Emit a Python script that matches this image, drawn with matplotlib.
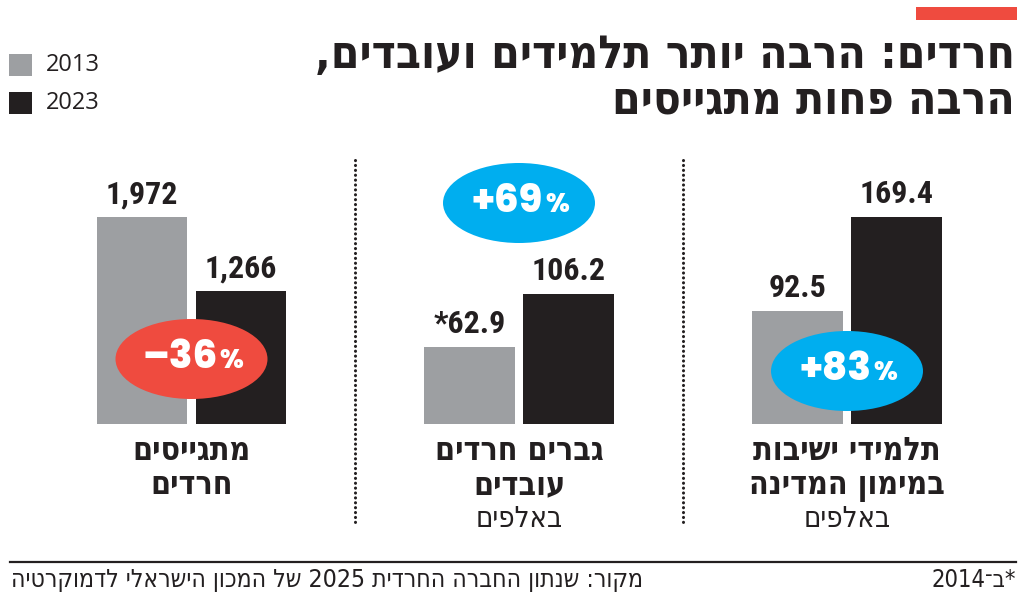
import re
import matplotlib
matplotlib.use("Agg")
import matplotlib.pyplot as plt
from matplotlib import font_manager as fm
from matplotlib.patches import Ellipse, Rectangle
from matplotlib.lines import Line2D
from matplotlib.transforms import ScaledTranslation

# ---------------- data ----------------
years = ["2013", "2023"]
title_lines = ["חרדים: הרבה יותר תלמידים ועובדים,", "הרבה פחות מתגייסים"]
panel_names = [["מתגייסים", "חרדים"], ["גברים חרדים", "עובדים"], ["תלמידי ישיבות", "במימון המדינה"]]
panel_units = ["", "באלפים", "באלפים"]
values_2013 = [1972, 62.9, 92.5]
values_2023 = [1266, 106.2, 169.4]
labels_2013 = ["1,972", "*62.9", "92.5"]
labels_2023 = ["1,266", "106.2", "169.4"]
change_numbers = ["–36", "+69", "+83"]
scale_group = [0, 1, 1]          # panels sharing a y scale
source_text = "מקור: שנתון החברה החרדית 2025 של המכון הישראלי לדמוקרטיה"
footnote_text = "*ב־2014"

# ---------------- style ----------------
GRAY = "#9d9fa2"
BLACK = "#231f20"
RED = "#ef4b3f"
BLUE = "#00aeef"
badge_colors = [RED, BLUE, BLUE]
badge_height_px = [65, 221, 53]   # badge centre above baseline, px

W, H = 1024, 596


def vis(s):
    """Visual (left-to-right) order for an RTL Hebrew string."""
    parts = re.split(r'(\d[\d.,]*)', s)
    out = []
    for p in reversed(parts):
        out.append(p if (p and p[0].isdigit()) else p[::-1])
    return "".join(out)


def pick(cands, weight="normal"):
    for c in cands:
        try:
            fm.findfont(fm.FontProperties(family=c, weight=weight), fallback_to_default=False)
            return c
        except Exception:
            continue
    return "DejaVu Sans"


def fx(px):
    return px / W


def fy(py):
    return 1 - py / H


HEB_BOLD = dict(family=["DejaVu Sans"], fontstretch="condensed", fontweight="bold")
HEB_REG = dict(family=["DejaVu Sans"], fontstretch="condensed", fontweight="normal")
NUM_BOLD = dict(family=[pick(["Roboto Condensed", "Fira Sans Condensed"], "bold"), "DejaVu Sans"],
                fontweight="bold")
BADGE = dict(family=[pick(["Poppins", "Montserrat", "Nunito Sans", "Alata", "Lato"], "heavy"),
                     "DejaVu Sans"], fontweight="heavy")
LEG = dict(family=[pick(["Open Sans", "Noto Sans"]), "DejaVu Sans"])

fig = plt.figure(figsize=(W / 100, H / 100), dpi=100)

# red tag
fig.add_artist(Rectangle((fx(916), fy(20)), (1017 - 916) / W, 13 / H,
                         transform=fig.transFigure, color=RED, lw=0))

# title
for i, line in enumerate(title_lines):
    fig.text(fx(1015), fy(68 + 45 * i), vis(line), ha="right", va="baseline",
             fontsize=33, color=BLACK, **HEB_BOLD)

# legend
for i, (yr, col) in enumerate(zip(years, [GRAY, BLACK])):
    top = 54 + 38 * i
    fig.add_artist(Rectangle((fx(9), fy(top + 22)), 23 / W, 22 / H,
                             transform=fig.transFigure, color=col, lw=0))
    fig.text(fx(46), fy(top + 11), yr, ha="left", va="center",
             fontsize=17, color=BLACK, **LEG)

# panels
axes_left_px = [92.5, 420, 748]
axes_w_px = 198
bottom_px, top_px = 424, 150
bar_px = 207  # height of the tallest bar in each scale group
group_max = {}
for g, a, b in zip(scale_group, values_2013, values_2023):
    group_max[g] = max(group_max.get(g, 0), a, b)

for i in range(3):
    ax = fig.add_axes([fx(axes_left_px[i]), fy(bottom_px), axes_w_px / W,
                       (bottom_px - top_px) / H])
    ax.set_xlim(-0.5, 1.5)
    ax.set_ylim(0, group_max[scale_group[i]] * (bottom_px - top_px) / bar_px)
    ax.axis("off")
    vals = [values_2013[i], values_2023[i]]
    labs = [labels_2013[i], labels_2023[i]]
    ax.bar([0, 1], vals, width=0.91, color=[GRAY, BLACK], linewidth=0, zorder=1)
    for x, v, lab in zip([0, 1], vals, labs):
        ax.annotate(lab, xy=(x, v), xytext=(0, 10), textcoords="offset points",
                    ha="center", va="baseline", fontsize=23, color=BLACK, **NUM_BOLD)
    # badge
    tr = fig.dpi_scale_trans + ScaledTranslation(0.5, 0, ax.transData)
    ax.add_patch(Ellipse((0, badge_height_px[i] / 100), 1.52, 0.80, transform=tr,
                         color=badge_colors[i], lw=0, zorder=3, clip_on=False))
    main = ax.annotate(change_numbers[i], xy=(0.5, 0), xytext=(-8.5, badge_height_px[i] * 0.72),
                       textcoords="offset points", ha="center", va="center",
                       fontsize=28, color="white", zorder=4, **BADGE)
    ax.annotate("%", xy=(1, 0), xycoords=main, xytext=(1.5, 2.5), textcoords="offset points",
                ha="left", va="bottom", fontsize=19, color="white", zorder=4, **BADGE)
    # category label
    cx = fx(axes_left_px[i] + axes_w_px / 2)
    for j, nm in enumerate(panel_names[i]):
        fig.text(cx, fy(460 + 34 * j), vis(nm), ha="center", va="baseline",
                 fontsize=23, color=BLACK, **HEB_BOLD)
    if panel_units[i]:
        fig.text(cx, fy(527), vis(panel_units[i]), ha="center", va="baseline",
                 fontsize=21, color=BLACK, **HEB_REG)

# dotted separators between panels
for i in range(2):
    xs = (axes_left_px[i] + axes_w_px + axes_left_px[i + 1]) / 2
    fig.add_artist(Line2D([fx(xs), fx(xs)], [fy(160), fy(522)], transform=fig.transFigure,
                          color=BLACK, lw=2.2, dashes=(0.05, 1.55), dash_capstyle="round"))

# footer
fig.add_artist(Line2D([fx(10), fx(1016)], [fy(562), fy(562)], transform=fig.transFigure,
                      color=BLACK, lw=1.6))
fig.text(fx(11), fy(587), vis(source_text), ha="left", va="baseline",
         fontsize=17.7, color=BLACK, **HEB_REG)
fig.text(fx(1016), fy(587), vis(footnote_text), ha="right", va="baseline",
         fontsize=17, color=BLACK, **HEB_REG)

fig.savefig("out.png", dpi=100)
